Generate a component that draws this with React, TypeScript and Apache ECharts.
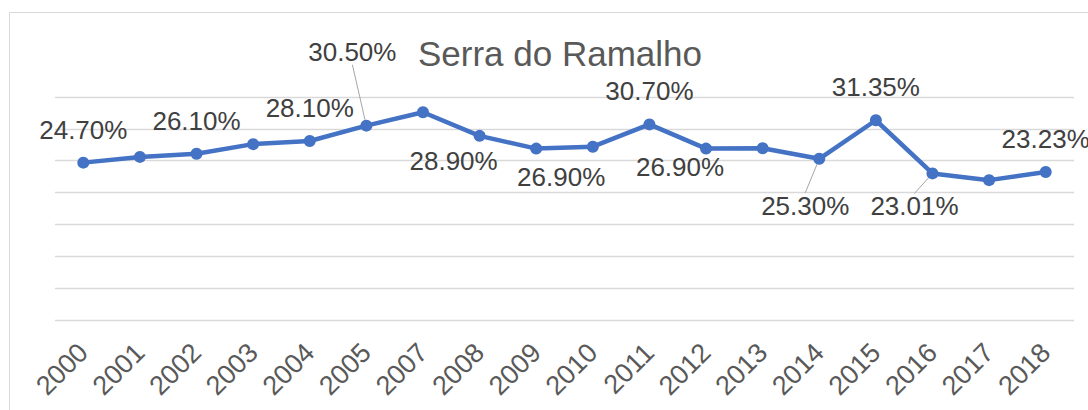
import React, { useEffect, useRef } from "react";
import * as echarts from "echarts";

const years = ["2000", "2001", "2002", "2003", "2004", "2005", "2007", "2008", "2009", "2010", "2011", "2012", "2013", "2014", "2015", "2016", "2017", "2018"];
const rates = [24.7, 25.6, 26.1, 27.6, 28.1, 30.5, 32.6, 28.9, 26.9, 27.2, 30.7, 26.9, 26.95, 25.3, 31.35, 23.01, 21.95, 23.23];
const labelledYears = ["2000", "2002", "2004", "2005", "2008", "2009", "2011", "2012", "2014", "2015", "2016", "2018"];
const leaderYears = ["2005", "2014", "2016"];
const yTicks = [0, 5, 10, 15, 20, 25, 30, 35];
const titleText = "Serra do Ramalho";

// label shifts (layout only), keyed by year
const labelShift: Record<string, [number, number]> = {
  "2005": [-14, -41],
  "2008": [-26, 58],
  "2009": [25, 61],
  "2012": [-26, 51],
  "2014": [-14, 80],
  "2016": [-18, 66],
};

export default function App() {
  const ref = useRef<HTMLDivElement>(null);
  useEffect(() => {
    if (!ref.current) return;
    const chart = echarts.init(ref.current, undefined, { renderer: "svg" });
    const font = "'Liberation Sans', Arial, sans-serif";
    const data = rates.map((v, i) => {
      const y = years[i];
      const show = labelledYears.includes(y);
      const item: any = { value: v, label: { show } };
      if (leaderYears.includes(y)) {
        item.labelLine = { show: true, lineStyle: { color: "#a6a6a6", width: 1 } };
      }
      return item;
    });
    chart.setOption({
      animation: false,
      backgroundColor: "#ffffff",
      title: {
        text: titleText,
        left: 555,
        top: 31,
        textAlign: "center",
        textStyle: { fontFamily: font, fontSize: 35, fontWeight: "normal", color: "#595959" },
      },
      graphic: [
        {
          type: "rect",
          shape: { x: 9.5, y: 12.5, width: 1200, height: 500 },
          style: { fill: "none", stroke: "#d9d9d9", lineWidth: 1 },
          silent: true,
          z: -1,
        },
      ],
      grid: { left: 55, right: 14, top: 97, bottom: 90 },
      xAxis: {
        type: "category",
        data: years,
        boundaryGap: true,
        axisLine: { show: false },
        axisTick: { show: false },
        axisLabel: { rotate: 45, margin: 28, fontFamily: font, fontSize: 27, color: "#595959" },
      },
      yAxis: {
        type: "value",
        min: yTicks[0],
        max: yTicks[yTicks.length - 1],
        interval: 5,
        axisLabel: { show: false },
        axisLine: { show: false },
        axisTick: { show: false },
        splitLine: { lineStyle: { color: "#d9d9d9", width: 1.3 } },
      },
      series: [
        {
          type: "line",
          data,
          symbol: "circle",
          symbolSize: 12,
          lineStyle: { color: "#4472C4", width: 4.5 },
          itemStyle: { color: "#4472C4" },
          label: {
            position: "top",
            distance: 14,
            fontFamily: font,
            fontSize: 26,
            color: "#404040",
            formatter: (p: any) => Number(p.value).toFixed(2) + "%",
          },
          labelLayout: (params: any) => {
            const s = labelShift[years[params.dataIndex]];
            return s ? { dx: s[0], dy: s[1] } : {};
          },
        },
      ],
    });
    return () => chart.dispose();
  }, []);
  return <div ref={ref} style={{ width: 1088, height: 410, position: "absolute", left: 0, top: 0 }} />;
}
